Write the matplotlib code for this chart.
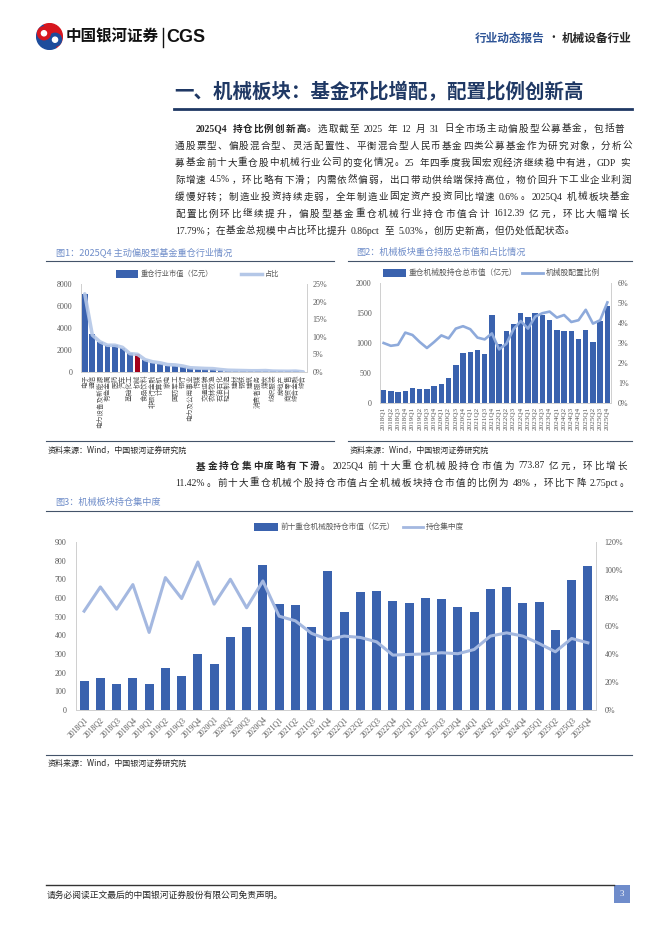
import re
import matplotlib
matplotlib.use("Agg")
import matplotlib.pyplot as plt
from matplotlib.lines import Line2D
from matplotlib.patches import Rectangle, Wedge, Circle

# ---- data -------------------------------------------------------------
industries = ["电子", "通信", "电力设备及新能源", "有色金属", "医药", "汽车", "基础化工",
              "机械", "食品饮料", "非银行金融", "计算机", "家电", "国防军工", "银行",
              "电力及公用事业", "传媒", "交通运输", "农林牧渔", "石油石化", "轻工制造",
              "建材", "钢铁", "建筑", "消费者服务", "煤炭", "纺织服装", "房地产",
              "商贸零售", "综合金融", "综合"]
ind_value = [7080, 3440, 2740, 2430, 2430, 2220, 1700, 1612, 1060, 820, 760, 580,
             550, 460, 330, 300, 270, 240, 180, 120, 120, 90, 90, 90, 120, 60, 60,
             60, 60, 5]
ind_share = [22.2, 10.5, 8.6, 7.6, 7.6, 7.0, 5.2, 5.03, 3.5, 2.9, 2.6, 2.1, 2.0,
             1.7, 1.2, 1.1, 1.0, 0.95, 0.7, 0.5, 0.45, 0.4, 0.35, 0.35, 0.4, 0.25,
             0.22, 0.2, 0.25, 0.03]

quarters = [f"{y}Q{q}" for y in range(2018, 2026) for q in range(1, 5)]
mech_value = [210, 207, 190, 200, 245, 240, 240, 290, 324, 425, 626, 838,
              855, 888, 821, 1475, 989, 1207, 1324, 1508, 1441, 1508, 1464, 1391,
              1223, 1207, 1207, 1073, 1223, 1022, 1369, 1612]
mech_ratio = [3.00, 2.86, 2.91, 3.52, 3.40, 3.05, 2.75, 3.05, 3.38, 3.23, 3.72, 3.84,
              3.69, 3.27, 3.18, 3.48, 2.68, 2.96, 3.69, 4.10, 3.72, 4.32, 4.49, 4.57,
              4.27, 4.40, 4.05, 4.14, 4.66, 3.97, 4.14, 5.03]

top10_value = [153, 171, 137, 171, 137, 224, 181, 302, 244, 389, 447, 777,
               569, 564, 447, 745, 523, 630, 640, 586, 571, 602, 597, 554,
               525, 646, 661, 571, 581, 426, 697, 774]
top10_conc = [70.6, 87.9, 72.0, 89.6, 55.4, 94.6, 79.6, 105.7, 75.6, 93.4, 73.0, 92.2,
              67.0, 63.7, 54.7, 50.4, 52.8, 51.8, 48.7, 39.2, 39.7, 40.0, 40.9, 40.2,
              43.2, 52.8, 55.1, 52.8, 47.5, 41.6, 51.1, 48.0]

para1 = [
    [("2025Q4 持仓比例创新高", True), ("。选取截至 2025 年 12 月 31 日全市场主动偏股型公募基金，包括普", False)],
    [("通股票型、偏股混合型、灵活配置性、平衡混合型人民币基金四类公募基金作为研究对象，分析公", False)],
    [("募基金前十大重仓股中机械行业公司的变化情况。25 年四季度我国宏观经济继续稳中有进，GDP 实", False)],
    [("际增速 4.5%，环比略有下滑；内需依然偏弱，出口带动供给端保持高位，物价回升下工业企业利润", False)],
    [("缓慢好转；制造业投资持续走弱，全年制造业固定资产投资同比增速 0.6%。2025Q4 机械板块基金", False)],
    [("配置比例环比继续提升，偏股型基金重仓机械行业持仓市值合计 1612.39 亿元，环比大幅增长", False)],
    [("17.79%；在基金总规模中占比环比提升 0.86pct 至 5.03%，创历史新高，但仍处低配状态。", False)],
]
para2 = [
    [("基金持仓集中度略有下滑", True), ("。2025Q4 前十大重仓机械股持仓市值为 773.87 亿元，环比增长", False)],
    [("11.42%。前十大重仓机械个股持仓市值占全机械板块持仓市值的比例为 48%，环比下降 2.75pct。", False)],
]

# ---- style ------------------------------------------------------------
CJK = ["Noto Sans CJK SC", "DejaVu Sans"]
SERIF = ["Liberation Serif", "Noto Sans CJK SC"]
plt.rcParams["font.family"] = CJK

NAVY = "#1f3864"
BAR = "#3a62ae"
RED = "#a3001b"
TITLE_BLUE = "#6f8dc9"
RULE = "#44546a"
TEXT = "#262626"
TICK = "#595959"
SPINE = "#d0d0d0"
BODY = 6.9

W, H = 662, 936
fig = plt.figure(figsize=(W / 100, H / 100), dpi=100)
renderer = fig.canvas.get_renderer()


def fx(x):
    return x / W


def fy(y):
    return 1 - y / H


def put(x, y, s, size, **kw):
    kw.setdefault("va", "center")
    return fig.text(fx(x), fy(y), s, fontsize=size, **kw)


def hline(x0, x1, y, color=RULE, lw=0.8):
    fig.add_artist(Line2D([fx(x0), fx(x1)], [fy(y), fy(y)],
                          transform=fig.transFigure, color=color, lw=lw))


TOKEN = re.compile(r"[A-Za-z0-9.%]+|\s+|.")


def text_line(x0, x1, y, parts, size, gap=None):
    # lays out one line of body text; gap=None stretches it to x1
    em = size / 72 * 100
    items = []
    for s, bold in parts:
        for m in TOKEN.finditer(s):
            t = m.group()
            if t.isspace():
                items.append((t, bold, em * 0.45, True))
            elif ord(t[0]) > 0x2E80:
                items.append((t, bold, em, False))
            else:
                tmp = fig.text(0, 0, t, fontsize=size, family=SERIF,
                               weight="bold" if bold else "normal")
                w = tmp.get_window_extent(renderer).width
                tmp.remove()
                items.append((t, bold, w + em * 0.05, False))
    total = sum(i[2] for i in items)
    n_gaps = sum(1 for i in items if not i[3]) - 1
    if gap is None:
        gap = (x1 - x0 - total) / n_gaps
    x = x0
    for k, (t, bold, w, space) in enumerate(items):
        if space:
            x += w
            continue
        fam = CJK if ord(t[0]) > 0x2E80 else SERIF
        put(x, y, t, size, family=fam, color=TEXT, ha="left",
            weight="bold" if bold else "normal")
        x += w
        if k + 1 < len(items) and not items[k + 1][3]:
            x += gap


def paragraph(lines, y0, last_natural=True):
    for i, line in enumerate(lines):
        x0 = 196 if i == 0 else 175
        natural = last_natural and i == len(lines) - 1
        text_line(x0, 632, y0 + 17 * i, line, BODY, gap=0.5 if natural else None)


def legend_bar(x, y, w, label, size, color=BAR):
    fig.add_artist(Rectangle((fx(x), fy(y + 4)), w / W, 8 / H,
                             transform=fig.transFigure, color=color, lw=0))
    put(x + w + 3, y, label, size, color=TICK)


def legend_line(x, y, w, label, size, color, lw):
    fig.add_artist(Line2D([fx(x), fx(x + w)], [fy(y), fy(y)],
                          transform=fig.transFigure, color=color, lw=lw))
    put(x + w + 3, y, label, size, color=TICK)


def axes_px(x0, x1, y0, y1):
    return fig.add_axes([fx(x0), fy(y1), (x1 - x0) / W, (y1 - y0) / H])


def style_axes(ax, axr):
    for a in (ax, axr):
        a.spines["top"].set_visible(False)
        for side in ("left", "right", "bottom"):
            a.spines[side].set_color(SPINE)
            a.spines[side].set_linewidth(0.7)
        a.tick_params(length=0, colors=TICK)
    for lab in ax.get_yticklabels() + axr.get_yticklabels():
        lab.set_family(SERIF)
        lab.set_fontsize(5.8)


# ---- page header --------------------------------------------------------
logo = fig.add_axes([fx(36), fy(50), 27 / W, 27 / H])
logo.set_xlim(-1.05, 1.05)
logo.set_ylim(-1.05, 1.05)
logo.set_aspect("equal")
logo.axis("off")
logo.add_patch(Wedge((0, 0), 1, -60, 120, color="#d7161e"))
logo.add_patch(Wedge((0, 0), 1, 120, 300, color="#1d4c9c"))
logo.add_patch(Circle((0.43, -0.25), 0.5, color="#1d4c9c"))
logo.add_patch(Circle((-0.43, 0.25), 0.5, color="#d7161e"))
logo.add_patch(Circle((0.43, -0.25), 0.2, color="white"))
logo.add_patch(Circle((-0.43, 0.25), 0.2, color="white"))

put(66, 37, "中国银河证券", 11.2, weight="bold", color="#111111")
fig.add_artist(Line2D([fx(163), fx(163)], [fy(28), fy(47)],
                      transform=fig.transFigure, color="#111111", lw=1))
put(166, 38, "CGS", 13, weight="bold", family=["Liberation Sans", "DejaVu Sans"],
    color="#111111")
put(475, 38, "行业动态报告", 8.4, weight="bold", color="#2f5597")
put(553, 38, "·", 8.4, color=TEXT, ha="center")
put(631, 38, "机械设备行业", 8.4, color=TEXT, ha="right", weight="bold")

put(174, 92, "一、机械板块：基金环比增配，配置比例创新高", 14, weight="bold", color=NAVY)
hline(174, 632, 109, NAVY, 2.0)

paragraph(para1, 129)

# ---- figure 1 -----------------------------------------------------------
put(56, 252, "图1：2025Q4 主动偏股型基金重仓行业情况", 6.6, color=TITLE_BLUE)
hline(46, 334, 261)
legend_bar(116, 274, 22, "重仓行业市值（亿元）", 5.2)
legend_line(241, 274, 21, "占比", 5.2, "#b4c7e7", 2.5)

ax1 = axes_px(81, 307, 284, 372)
x1 = range(len(industries))
colors = [RED if n == "机械" else BAR for n in industries]
ax1.bar(x1, ind_value, width=0.75, color=colors, zorder=2)
ax1.set_xlim(-0.5, len(industries) - 0.5)
ax1.set_ylim(0, 8000)
ax1.set_yticks(range(0, 8001, 2000))
ax1.set_xticks(list(x1))
ax1.set_xticklabels(industries, rotation=90, fontsize=4.8, color=TICK)
ax1r = ax1.twinx()
ax1r.plot(x1, ind_share, color="#b4c7e7", lw=2.6, alpha=0.9, solid_capstyle="round")
ax1r.set_ylim(0, 25)
ax1r.set_yticks(range(0, 26, 5))
ax1r.set_yticklabels([f"{v}%" for v in range(0, 26, 5)])
style_axes(ax1, ax1r)
ax1.tick_params(axis="y", pad=6)
ax1r.tick_params(axis="y", pad=4)
ax1.tick_params(axis="x", pad=2)

hline(46, 334, 441)
put(48, 450, "资料来源：Wind，中国银河证券研究院", 5.8, color=TEXT, style="italic")

# ---- figure 2 -----------------------------------------------------------
put(356, 252, "图2：机械板块重仓持股总市值和占比情况", 6.6, color=TITLE_BLUE)
hline(348, 632, 261)
legend_bar(383, 273, 23, "重仓机械股持仓总市值（亿元）", 5.6)
legend_line(522, 273, 21, "机械股配置比例", 5.6, "#8eaadb", 2.0)

ax2 = axes_px(380, 611, 283, 403)
x2 = range(len(quarters))
ax2.bar(x2, mech_value, width=0.75, color=BAR, zorder=2)
ax2.set_xlim(-0.5, len(quarters) - 0.5)
ax2.set_ylim(0, 2000)
ax2.set_yticks(range(0, 2001, 500))
ax2.set_xticks(list(x2))
ax2.set_xticklabels(quarters, rotation=90, fontsize=5.2, color=TICK, family=SERIF)
ax2r = ax2.twinx()
ax2r.plot(x2, mech_ratio, color="#8eaadb", lw=1.9)
ax2r.set_ylim(0, 6)
ax2r.set_yticks(range(0, 7))
ax2r.set_yticklabels([f"{v}%" for v in range(0, 7)])
style_axes(ax2, ax2r)
ax2.tick_params(axis="y", pad=6)
ax2r.tick_params(axis="y", pad=5)
ax2.tick_params(axis="x", pad=3)

hline(348, 632, 441)
put(350, 450, "资料来源：Wind，中国银河证券研究院", 5.8, color=TEXT, style="italic")

# ---- second paragraph ----------------------------------------------------
paragraph(para2, 466, last_natural=False)

# ---- figure 3 -----------------------------------------------------------
put(55, 502, "图3：机械板块持仓集中度", 6.6, color=TITLE_BLUE)
hline(46, 632, 511)
legend_bar(254, 527, 24, "前十重仓机械股持仓市值（亿元）", 5.5)
legend_line(403, 527, 20, "持仓集中度", 5.5, "#a4b8e0", 2.0)

ax3 = axes_px(76, 596, 542, 710)
x3 = range(len(quarters))
ax3.bar(x3, top10_value, width=0.55, color=BAR, zorder=2)
ax3.set_xlim(-0.5, len(quarters) - 0.5)
ax3.set_ylim(0, 900)
ax3.set_yticks(range(0, 901, 100))
ax3.set_xticks(list(x3))
ax3.set_xticklabels(quarters, rotation=45, ha="right", rotation_mode="anchor",
                    fontsize=5.6, color=TICK, family=SERIF)
ax3r = ax3.twinx()
ax3r.plot(x3, top10_conc, color="#a4b8e0", lw=2.2)
ax3r.set_ylim(0, 120)
ax3r.set_yticks(range(0, 121, 20))
ax3r.set_yticklabels([f"{v}%" for v in range(0, 121, 20)])
style_axes(ax3, ax3r)
ax3.tick_params(axis="y", pad=7)
ax3r.tick_params(axis="y", pad=6)
ax3.tick_params(axis="x", pad=4)

hline(46, 632, 755)
put(48, 763, "资料来源：Wind，中国银河证券研究院", 5.8, color=TEXT, style="italic")

# ---- footer -------------------------------------------------------------
hline(46, 614, 885, "#333333", 1.0)
put(47, 895, "请务必阅读正文最后的中国银河证券股份有限公司免责声明。", 6.3, color=TEXT)
fig.add_artist(Rectangle((fx(614), fy(903)), 16 / W, 18 / H,
                         transform=fig.transFigure, color="#6f8ccb", lw=0))
put(622, 894, "3", 6.3, color="white", ha="center", family=SERIF)

fig.savefig("out.png", dpi=100)
